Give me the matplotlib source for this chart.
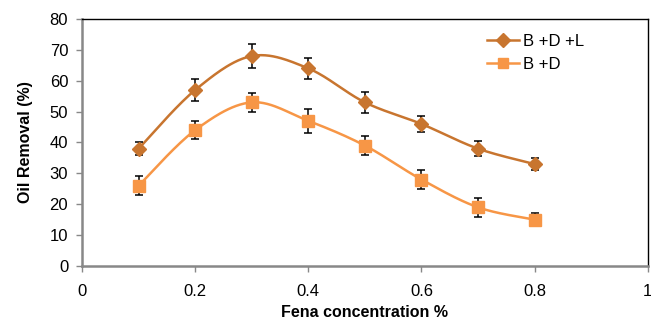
import numpy as np
import matplotlib
matplotlib.use("Agg")
import matplotlib.pyplot as plt
from matplotlib.lines import Line2D

plt.rcParams['font.family'] = ['Liberation Sans', 'DejaVu Sans']

conc = [0.1, 0.2, 0.3, 0.4, 0.5, 0.6, 0.7, 0.8]
bdl = [38, 57, 68, 64, 53, 46, 38, 33]
bdl_err = [2, 3.5, 4, 3.5, 3.5, 2.5, 2.5, 2]
bd = [26, 44, 53, 47, 39, 28, 19, 15]
bd_err = [3, 3, 3, 4, 3, 3, 3, 2]
labels = ["B +D +L", "B +D"]
colors = ["#C8752F", "#F79646"]
markers = ["D", "s"]


def smooth(x, y, n=30):
    x = np.asarray(x, float)
    y = np.asarray(y, float)
    px = np.concatenate([[x[0]], x, [x[-1]]])
    py = np.concatenate([[y[0]], y, [y[-1]]])
    xs, ys = [], []
    t = np.linspace(0, 1, n)
    for i in range(1, len(px) - 2):
        p0x, p1x, p2x, p3x = px[i-1], px[i], px[i+1], px[i+2]
        p0y, p1y, p2y, p3y = py[i-1], py[i], py[i+1], py[i+2]
        c1x = p1x + (p2x - p0x) / 6
        c1y = p1y + (p2y - p0y) / 6
        c2x = p2x - (p3x - p1x) / 6
        c2y = p2y - (p3y - p1y) / 6
        bx = (1-t)**3*p1x + 3*(1-t)**2*t*c1x + 3*(1-t)*t**2*c2x + t**3*p2x
        by = (1-t)**3*p1y + 3*(1-t)**2*t*c1y + 3*(1-t)*t**2*c2y + t**3*p2y
        xs.extend(bx)
        ys.extend(by)
    return np.array(xs), np.array(ys)


fig = plt.figure(figsize=(6.51, 3.22), dpi=100)
ax = fig.add_axes([0.126, 0.174, 0.869, 0.767])

handles = []
for y, e, c, m, lab, ms in zip([bdl, bd], [bdl_err, bd_err], colors, markers, labels, [7.5, 8]):
    sx, sy = smooth(conc, y)
    ax.plot(sx, sy, color=c, lw=1.8, zorder=2)
    ax.errorbar(conc, y, yerr=e, fmt='none', ecolor='black', elinewidth=1.1,
                capsize=3, capthick=1.1, zorder=3)
    ax.plot(conc, y, linestyle='none', marker=m, color=c, markersize=ms, zorder=4)
    handles.append(Line2D([0], [0], color=c, lw=1.8, marker=m, markersize=ms - 0.5, label=lab))

ax.set_xlim(0, 1)
ax.set_ylim(0, 80)
ax.set_xticks(np.arange(0, 1.01, 0.2))
ax.set_xticklabels(["0", "0.2", "0.4", "0.6", "0.8", "1"])
ax.set_yticks(np.arange(0, 81, 10))

for s in ["left", "bottom"]:
    ax.spines[s].set_color("#888888")
    ax.spines[s].set_linewidth(1.8)
for s in ["top", "right"]:
    ax.spines[s].set_color("black")
    ax.spines[s].set_linewidth(1.0)

ax.tick_params(axis='both', direction='out', length=4, width=1, color="#888888",
               labelsize=12, labelcolor='black')
ax.tick_params(axis='x', pad=9)
ax.tick_params(axis='y', pad=6)
ax.tick_params(top=False, right=False)

ax.set_xlabel("Fena concentration %", fontsize=11.5, fontweight='bold', labelpad=4)
ax.set_ylabel("Oil Removal (%)", fontsize=11.5, fontweight='bold', labelpad=12)

ax.legend(handles=handles, loc='upper left', bbox_to_anchor=(0.69, 1.0), frameon=False,
          fontsize=12, handlelength=1.9, handletextpad=0.25, labelspacing=0.5)

fig.savefig("out.png", dpi=100)
